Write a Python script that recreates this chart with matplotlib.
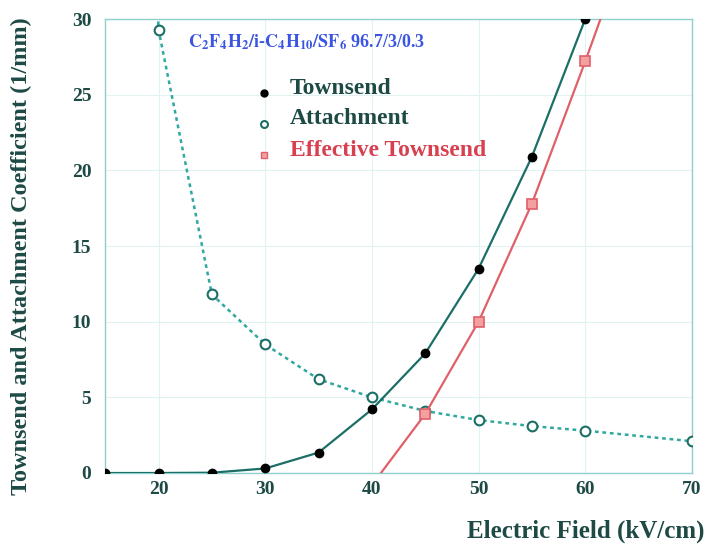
import matplotlib
matplotlib.use("Agg")
import matplotlib.pyplot as plt

field_t = [15, 20, 25, 30, 35, 40, 45, 50, 55, 60]
townsend = [0.0, 0.0, 0.02, 0.3, 1.35, 4.2, 7.9, 13.5, 20.9, 30.0]

field_a = [15, 20, 25, 30, 35, 40, 45, 50, 55, 60, 70]
attachment = [120.0, 29.3, 11.8, 8.5, 6.2, 5.0, 4.1, 3.5, 3.1, 2.8, 2.1]

field_e = [40, 45, 50, 55, 60, 65]
effective = [-0.8, 3.9, 10.0, 17.8, 27.2, 37.0]

xticks = [20, 30, 40, 50, 60, 70]
yticks = [0, 5, 10, 15, 20, 25, 30]

teal = "#1b6f66"
dteal = "#2fa8a0"
red = "#e0606a"
txt = "#1d4a45"

plt.rcParams['font.family'] = ['Liberation Serif', 'DejaVu Serif']
plt.rcParams['mathtext.fontset'] = 'stix'

fig = plt.figure(figsize=(7.06, 5.46), dpi=100)
ax = fig.add_axes([0.149, 0.1337, 0.831, 0.8313])

ax.plot(field_a, attachment, linestyle=(0, (1.5, 1.5)), color=dteal, lw=1.8,
        marker='o', mfc='white', mec=teal, ms=7, mew=1.5, zorder=3)
ax.plot(field_t, townsend, color=teal, lw=1.6, marker='o', mfc='black',
        mec='black', ms=6, zorder=4)
ax.plot(field_e, effective, color=red, lw=1.6, marker='s', mfc='#f5a0a0',
        mec=red, ms=7, mew=1.2, zorder=3)

ax.set_xlim(15, 70)
ax.set_ylim(0, 30)
ax.set_xticks(xticks)
ax.set_yticks(yticks)
ax.grid(True, color='#e0f2f2', lw=0.8)
ax.set_axisbelow(True)
for s in ax.spines.values():
    s.set_color('#8fd0cc')
    s.set_linewidth(1.0)
ax.tick_params(axis='x', length=0, pad=6, labelsize=14, labelcolor=txt)
ax.tick_params(axis='y', length=0, pad=10, labelsize=14, labelcolor=txt)
for lab in ax.get_xticklabels() + ax.get_yticklabels():
    lab.set_fontweight('bold')

fig.text(0.998, 0.005, "Electric Field (kV/cm)", ha='right', va='bottom',
         fontsize=18, fontweight='bold', color=txt)
fig.text(0.031, 0.53, "Townsend and Attachment Coefficient (1/mm)", rotation=90,
         ha='center', va='center', fontsize=17.5, fontweight='bold', color=txt)

ax.text(22.8, 28.45, r"$\mathbf{C_2F_4H_2/i}$-$\mathbf{C_4H_{10}/SF_6}$ 96.7/3/0.3",
        fontsize=13, fontweight='bold', color='#3a55e0', ha='left', va='center')

lx, tx = 29.9, 32.3
ax.plot([lx], [25.1], marker='o', color='black', ms=5)
ax.text(tx, 25.4, "Townsend", fontsize=17, fontweight='bold', color=txt, va='center')
ax.plot([lx], [23.1], marker='o', mfc='white', mec=teal, ms=5, mew=1.5)
ax.text(tx, 23.4, "Attachment", fontsize=17, fontweight='bold', color=txt, va='center')
ax.plot([lx], [21.0], marker='s', mfc='#f5a0a0', mec=red, ms=5)
ax.text(tx, 21.3, "Effective Townsend", fontsize=17, fontweight='bold', color='#d84050', va='center')

fig.savefig("out.png", dpi=100)
